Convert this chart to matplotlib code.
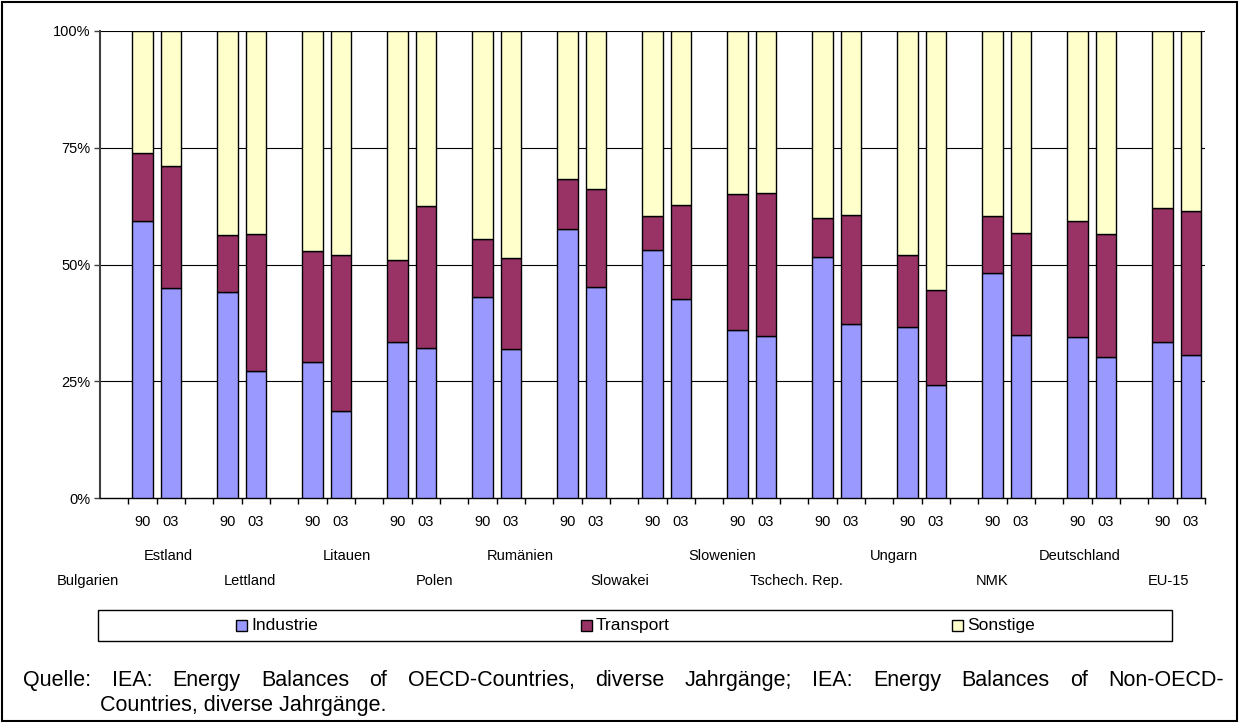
import matplotlib
matplotlib.use("Agg")
import matplotlib.pyplot as plt
import numpy as np
from matplotlib.patches import Rectangle

plt.rcParams['font.family'] = ['Liberation Sans', 'DejaVu Sans']

countries = ["Bulgarien", "Estland", "Lettland", "Litauen", "Polen", "Rumänien",
             "Slowakei", "Slowenien", "Tschech. Rep.", "Ungarn", "NMK",
             "Deutschland", "EU-15"]
years = ["90", "03"]
series_names = ["Industrie", "Transport", "Sonstige"]
series_colors = ["#9999FF", "#993366", "#FFFFCC"]

industrie_90 = [59.3, 44.1, 29.2, 33.5, 43.0, 57.7, 53.2, 36.0, 51.5, 36.7, 48.2, 34.4, 33.5]
industrie_03 = [45.0, 27.1, 18.7, 32.2, 31.9, 45.1, 42.6, 34.7, 37.2, 24.1, 34.9, 30.2, 30.6]
transport_90 = [14.5, 12.2, 23.6, 17.5, 12.5, 10.7, 7.1, 29.1, 8.4, 15.3, 12.1, 25.0, 28.6]
transport_03 = [26.1, 29.5, 33.3, 30.4, 19.4, 21.1, 20.1, 30.7, 23.5, 20.4, 21.9, 26.4, 30.8]
sonstige_90 = [26.2, 43.7, 47.2, 49.0, 44.5, 31.6, 39.7, 34.9, 40.1, 48.0, 39.7, 40.6, 37.9]
sonstige_03 = [28.9, 43.4, 48.0, 37.4, 48.7, 33.8, 37.3, 34.6, 39.3, 55.5, 43.2, 43.4, 38.6]

# label placement (category units) as in the original multi-level axis
country_label_x = [-0.93, 1.90, 4.80, 8.23, 11.32, 14.35, 17.85, 21.47, 24.07, 27.51, 30.97, 34.09, 37.21]

source_line1 = "Quelle: IEA: Energy Balances of OECD-Countries, diverse Jahrgänge; IEA: Energy Balances of Non-OECD-"
source_line2 = "Countries, diverse Jahrgänge."

W, H = 1239, 722
fig = plt.figure(figsize=(W / 100, H / 100), dpi=100)
ax = fig.add_axes([100 / W, 1 - 498 / H, (1205 - 100) / W, 467 / H])

n = len(countries)
x90 = np.arange(n) * 3 + 1
x03 = np.arange(n) * 3 + 2
bw = 0.707

data90 = [industrie_90, transport_90, sonstige_90]
data03 = [industrie_03, transport_03, sonstige_03]
for xs, data in ((x90, data90), (x03, data03)):
    bottom = np.zeros(n)
    for vals, col in zip(data, series_colors):
        v = np.array(vals)
        ax.bar(xs, v, bw, bottom=bottom, color=col, edgecolor='black', linewidth=1.0, zorder=3)
        bottom += v

ax.set_xlim(-0.5, 3 * n - 0.5)
ax.set_ylim(0, 100)
ax.set_yticks([0, 25, 50, 75, 100])
ax.set_yticklabels(["0%", "25%", "50%", "75%", "100%"], fontsize=10.5)
for yv in [25, 50, 75, 100]:
    ax.axhline(yv, color='black', lw=0.8, zorder=1)

ax.set_xticks(np.arange(0, 3 * n) + 0.5)
ax.set_xticklabels([])
ax.tick_params(axis='x', direction='out', length=4, width=1, color='black')
ax.tick_params(axis='y', direction='out', length=4, width=1, color='#404040', pad=3)

for s in ['top', 'right']:
    ax.spines[s].set_visible(False)
ax.spines['left'].set_color('#404040')
ax.spines['left'].set_linewidth(1.5)
ax.spines['bottom'].set_color('black')
ax.spines['bottom'].set_linewidth(1.0)

tr = ax.get_xaxis_transform()
def yax(px):
    return -(px - 498) / 467

for xs, lab in ((x90, years[0]), (x03, years[1])):
    for xv in xs:
        ax.text(xv, yax(522), lab, transform=tr, ha='center', va='center', fontsize=10.5)

for i, (c, xl) in enumerate(zip(countries, country_label_x)):
    ypx = 581 if i % 2 == 0 else 556
    ax.text(xl, yax(ypx), c, transform=tr, ha='center', va='center', fontsize=10.5)

# legend box
lx0, lx1, ly0, ly1 = 98, 1172, 610, 641
fig.patches.append(Rectangle((lx0 / W, 1 - ly1 / H), (lx1 - lx0) / W, (ly1 - ly0) / H,
                             transform=fig.transFigure, fill=False, ec='black', lw=1.0))
leg_x = [236, 581, 952]
ly = (ly0 + ly1) / 2
for name, col, xp in zip(series_names, series_colors, leg_x):
    fig.patches.append(Rectangle((xp / W, 1 - (ly + 5.5) / H), 11 / W, 11 / H,
                                 transform=fig.transFigure, fc=col, ec='black', lw=1.0))
    fig.text((xp + 15) / W, 1 - ly / H, name, fontsize=12.5, va='center', ha='left')

# outer frame
fig.patches.append(Rectangle((2 / W, 1 / H), (W - 4) / W, (H - 3) / H,
                             transform=fig.transFigure, fill=False, ec='black', lw=1.5))

# source text, first line justified
words = source_line1.split(" ")
fig.canvas.draw()
r = fig.canvas.get_renderer()
y1 = 1 - 686 / H
texts = [fig.text(0, y1, w, fontsize=15.5, va='baseline', ha='left') for w in words]
widths = [t.get_window_extent(r).width for t in texts]
x0, x1 = 23, 1224
gap = (x1 - x0 - sum(widths)) / (len(words) - 1)
xc = x0
for t, w in zip(texts, widths):
    t.set_x(xc / W)
    xc += w + gap
fig.text(100 / W, 1 - 711 / H, source_line2, fontsize=15.5, va='baseline', ha='left')

fig.savefig("out.png", dpi=100)
